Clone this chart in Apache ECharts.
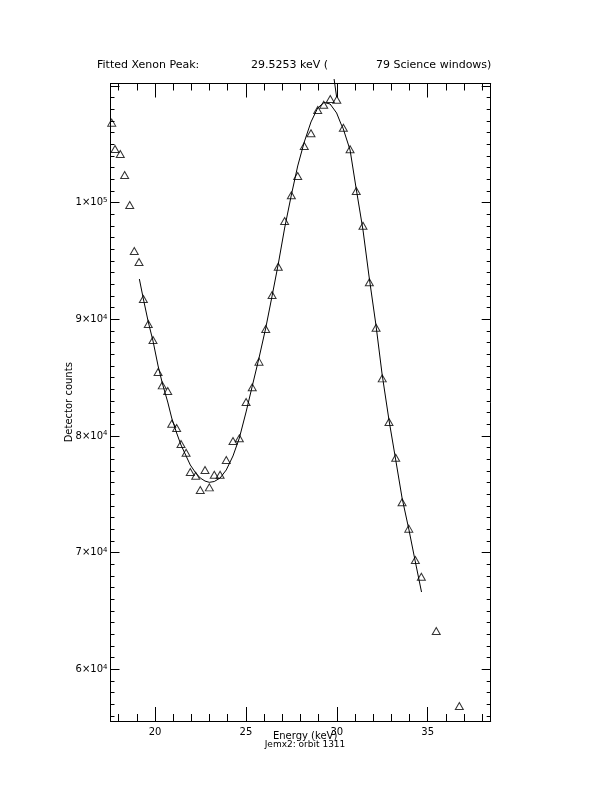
<!DOCTYPE html>
<html>
<head>
<meta charset="utf-8">
<script src="https://cdn.jsdelivr.net/npm/echarts@6/dist/echarts.min.js"></script>
<style>
html,body{margin:0;padding:0;background:#fff;}
#chart{width:612px;height:792px;}
</style>
</head>
<body>
<div id="chart"></div>
<script>
// Measured data points (triangles)
const energy = [17.62,17.80,18.09,18.33,18.61,18.86,19.12,19.36,19.63,19.89,20.17,20.40,20.70,20.92,21.19,21.43,21.71,21.94,22.24,22.49,22.75,22.99,23.26,23.58,23.92,24.29,24.64,25.01,25.35,25.72,26.09,26.44,26.78,27.13,27.50,27.85,28.21,28.58,28.95,29.28,29.64,30.00,30.36,30.73,31.07,31.44,31.79,32.16,32.50,32.87,33.24,33.59,33.96,34.32,34.65,35.47,36.74];
const counts = [106850,104590,104170,102370,99790,95850,94910,91740,89600,88230,85480,84340,83860,81050,80690,79320,78570,76920,76600,75370,77090,75600,76680,76680,77940,79570,79800,82910,84170,86370,89170,92080,94510,98420,100630,102280,104850,105940,107940,108390,108880,108820,106420,104570,100990,98020,93170,89280,84940,81200,78140,74320,72060,69380,67940,63290,56860];

// Fitted curve
const fitEnergy = [19.14,19.36,19.63,19.89,20.17,20.40,20.70,20.92,21.19,21.43,21.71,21.94,22.24,22.49,22.75,22.99,23.26,23.58,23.92,24.29,24.64,25.01,25.35,25.72,26.09,26.44,26.78,27.13,27.50,27.85,28.21,28.58,28.95,29.30,29.63,29.99,30.23,30.34,30.73,31.06,31.44,31.77,32.16,32.49,32.87,33.26,33.59,33.97,34.30,34.66];
const fitCounts = [93450,91740,89770,88140,86000,84540,82910,81540,80260,79230,78290,77520,76830,76400,76140,76030,76100,76400,77090,78290,79830,82060,84280,86680,89250,92000,94740,97820,100650,103140,105190,106910,108110,108580,108450,107680,106740,106390,104510,101250,97650,93710,89430,85310,81370,77770,74690,71950,69370,66630];

// Short marker stroke near the peak
const peakMarkEnergy = [29.85,29.99];
const peakMarkCounts = [110590,109050];

// Axis ranges and tick labels
const xRange = [17.552, 38.465];
const yRange = [55578, 110206];
const xTickLabels = {20:'20',25:'25',30:'30',35:'35'};
const yTickLabels = {60000:['6','4'],70000:['7','4'],80000:['8','4'],90000:['9','4'],100000:['1','5']};

const titleParts = ['Fitted Xenon Peak:', '29.5253 keV (', '79 Science windows)'];
const xTitle = 'Energy (keV)';
const yTitle = 'Detector counts';
const subTitle = 'Jemx2: orbit 1311';

const FONT = 'DejaVu Sans';
const chart = echarts.init(document.getElementById('chart'), null, {renderer:'canvas'});

function xAxisCfg(pos, showLabels) {
  return {
    type:'value', position:pos, min:xRange[0], max:xRange[1],
    minInterval:5, maxInterval:5,
    axisLine:{show:true, onZero:false, lineStyle:{color:'#000', width:1}},
    axisTick:{show:true, inside:true, length:14, lineStyle:{color:'#000', width:1}},
    minorTick:{show:true, splitNumber:5, length:7, lineStyle:{color:'#000', width:1}},
    splitLine:{show:false}, minorSplitLine:{show:false},
    axisLabel:{show:showLabels, color:'#000', fontFamily:FONT, fontSize:10, margin:6,
      formatter:function(v){ const k=Math.round(v); return (Math.abs(v-k)<1e-6 && xTickLabels[k]) ? xTickLabels[k] : ''; }},
    name: showLabels ? xTitle : '', nameLocation:'middle', nameGap:10, nameMoveOverlap:false,
    nameTextStyle:{color:'#000', fontFamily:FONT, fontSize:10, padding:[0,0,0,9]}
  };
}
function yAxisCfg(pos, showLabels) {
  return {
    type:'value', position:pos, min:yRange[0], max:yRange[1],
    minInterval:10000, maxInterval:10000,
    axisLine:{show:true, onZero:false, lineStyle:{color:'#000', width:1}},
    axisTick:{show:true, inside:true, length:9, lineStyle:{color:'#000', width:1}},
    minorTick:{show:true, splitNumber:10, length:4, lineStyle:{color:'#000', width:1}},
    splitLine:{show:false}, minorSplitLine:{show:false},
    axisLabel:{show:showLabels, color:'#000', fontFamily:FONT, fontSize:10, margin:3,
      formatter:function(v){ const k=Math.round(v); const t=yTickLabels[k]; return (Math.abs(v-k)<1e-6 && t) ? '{m|'+t[0]+'×10}{s|'+t[1]+'}' : ''; },
      rich:{ m:{fontFamily:FONT, fontSize:10, color:'#000'}, s:{fontFamily:FONT, fontSize:7, color:'#000', verticalAlign:'top', padding:[0,0,5,0]} }
    },
    name: showLabels ? yTitle : '', nameLocation:'middle', nameGap:36, nameMoveOverlap:false,
    nameTextStyle:{color:'#000', fontFamily:FONT, fontSize:10}
  };
}

const option = {
  backgroundColor:'#fff',
  animation:false,
  grid:{left:110.5, top:83.5, width:380.2, height:637.5, containLabel:false},
  xAxis:[xAxisCfg('bottom', true), xAxisCfg('top', false)],
  yAxis:[yAxisCfg('left', true), yAxisCfg('right', false)],
  graphic:[
    {type:'text', left:97, top:60, style:{text:titleParts[0], fill:'#000', font:'11px "DejaVu Sans"'}},
    {type:'text', left:251, top:60, style:{text:titleParts[1], fill:'#000', font:'11px "DejaVu Sans"'}},
    {type:'text', left:376, top:60, style:{text:titleParts[2], fill:'#000', font:'11px "DejaVu Sans"'}},
    {type:'text', x:305, y:740, style:{text:subTitle, fill:'#000', font:'9px "DejaVu Sans"', textAlign:'center', textVerticalAlign:'top'}}
  ],
  series:[
    {type:'line', name:'fit', data:fitEnergy.map((x,i)=>[x,fitCounts[i]]), showSymbol:false, symbol:'none',
     lineStyle:{color:'#000', width:1}, smooth:false, z:2},
    {type:'scatter', name:'counts', data:energy.map((x,i)=>[x,counts[i]]), symbol:'triangle', symbolSize:[8,7],
     itemStyle:{color:'rgba(255,255,255,0)', borderColor:'#000', borderWidth:1}, z:3},
    {type:'line', name:'peak', data:peakMarkEnergy.map((x,i)=>[x,peakMarkCounts[i]]), showSymbol:false, symbol:'none',
     clip:false, lineStyle:{color:'#000', width:1}, z:4}
  ]
};
chart.setOption(option);
</script>
</body>
</html>
